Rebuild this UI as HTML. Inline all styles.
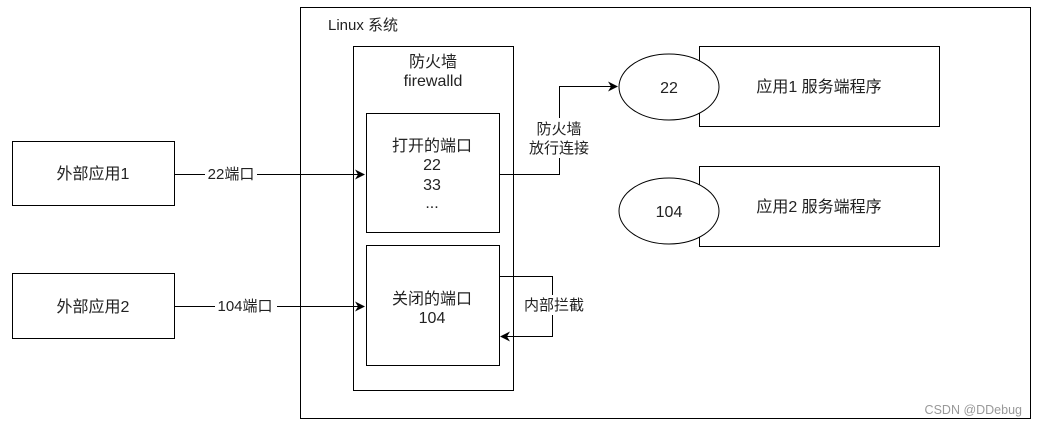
<!DOCTYPE html>
<html><head><meta charset="utf-8"><style>
body{margin:0;background:#fff;}
svg text{font-family:"Liberation Sans","Noto Sans CJK SC",sans-serif;font-size:16px;fill:#222;}
</style></head><body>
<svg width="1038" height="426" xmlns="http://www.w3.org/2000/svg">
<defs><marker id="a" markerWidth="10" markerHeight="10" refX="9" refY="5" orient="auto" markerUnits="userSpaceOnUse"><path d="M0,0 L10,5 L0,10 L3,5 Z" fill="#000"/></marker></defs>
<g fill="none" stroke="#000" stroke-width="1">
<rect x="300.5" y="7.5" width="730" height="411"/>
<rect x="353.5" y="46.5" width="160" height="344"/>
<rect x="366.5" y="113.5" width="133" height="119"/>
<rect x="366.5" y="245.5" width="133" height="120"/>
<rect x="12.5" y="141.5" width="162" height="64"/>
<rect x="12.5" y="273.5" width="162" height="65"/>
<rect x="699.5" y="46.5" width="240" height="80"/>
<rect x="699.5" y="166.5" width="240" height="80"/>
<ellipse cx="669" cy="87" rx="50" ry="33" fill="#fff"/>
<ellipse cx="669" cy="211" rx="50" ry="33" fill="#fff"/>
<path d="M174.5 174.5 H364" marker-end="url(#a)"/>
<path d="M174.5 306.5 H364" marker-end="url(#a)"/>
<path d="M499.5 174.5 H559.5 V86.5 H617" marker-end="url(#a)"/>
<path d="M499.5 276.5 H552.5 V336.5 H501" marker-end="url(#a)"/>
</g>
<rect x="205" y="165" width="52" height="18" fill="#fff"/>
<text x="231" y="179" text-anchor="middle" style="font-size:15px">22端口</text>
<rect x="215" y="297" width="62" height="18" fill="#fff"/>
<text x="245" y="311" text-anchor="middle" style="font-size:15px">104端口</text>
<rect x="528" y="118" width="62" height="40" fill="#fff"/>
<text x="559" y="134" text-anchor="middle" style="font-size:15px">防火墙</text>
<text x="559" y="153" text-anchor="middle" style="font-size:15px">放行连接</text>
<rect x="522" y="295" width="64" height="20" fill="#fff"/>
<text x="554" y="310" text-anchor="middle" style="font-size:15px">内部拦截</text>
<text x="328" y="30" style="font-size:15px">Linux 系统</text>
<text x="433" y="67" text-anchor="middle">防火墙</text>
<text x="433" y="86" text-anchor="middle">firewalld</text>
<text x="432" y="151" text-anchor="middle">打开的端口</text>
<text x="432" y="170" text-anchor="middle">22</text>
<text x="432" y="190" text-anchor="middle">33</text>
<text x="432" y="208" text-anchor="middle">...</text>
<text x="432" y="304" text-anchor="middle">关闭的端口</text>
<text x="432" y="323" text-anchor="middle">104</text>
<text x="93" y="179" text-anchor="middle">外部应用1</text>
<text x="93" y="312" text-anchor="middle">外部应用2</text>
<text x="669" y="93" text-anchor="middle">22</text>
<text x="669" y="217" text-anchor="middle">104</text>
<text x="819" y="92" text-anchor="middle">应用1 服务端程序</text>
<text x="819" y="212" text-anchor="middle">应用2 服务端程序</text>
<text x="1022" y="414" text-anchor="end" style="fill:#999;font-size:12.5px">CSDN @DDebug</text>
</svg>
</body></html>
